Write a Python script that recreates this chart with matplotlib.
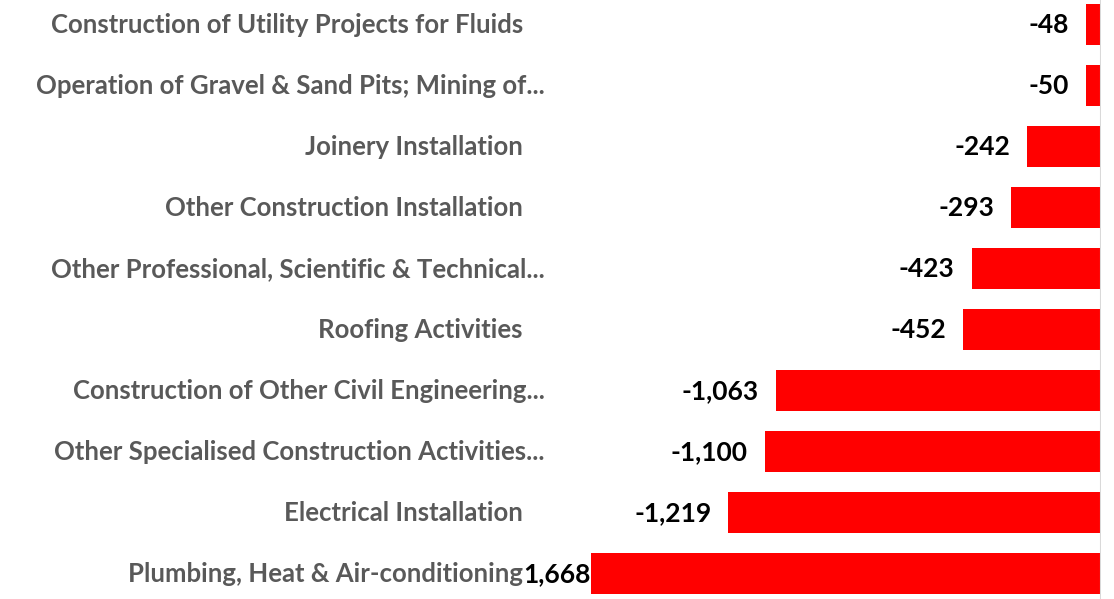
import matplotlib
matplotlib.use("Agg")
import matplotlib.pyplot as plt
import numpy as np

categories = [
    "Construction of Utility Projects for Fluids",
    "Operation of Gravel & Sand Pits; Mining of...",
    "Joinery Installation",
    "Other Construction Installation",
    "Other Professional, Scientific & Technical...",
    "Roofing Activities",
    "Construction of Other Civil Engineering...",
    "Other Specialised Construction Activities...",
    "Electrical Installation",
    "Plumbing, Heat & Air-conditioning",
]
values = [-48, -50, -242, -293, -423, -452, -1063, -1100, -1219, -1668]
value_labels = ["-48", "-50", "-242", "-293", "-423", "-452", "-1,063", "-1,100", "-1,219", "1,668"]

W, H = 1114, 599
fig = plt.figure(figsize=(W / 100, H / 100), dpi=100)
left_px, right_px = 591, 1101
top_px, bot_px = -5.8, 604.2
ax = fig.add_axes([left_px / W, 1 - bot_px / H, (right_px - left_px) / W, (bot_px - top_px) / H])

y = np.arange(len(categories))
ax.barh(y, values, height=0.67, color="#ff0000", zorder=2)
ax.set_xlim(min(values), 0)
ax.set_ylim(len(categories) - 0.5, -0.5)
ax.axis("off")

# vertical axis line at zero
ax.axvline(0, color="#d9d9d9", lw=1.5, zorder=3)

font = "Lato"
for i, (v, lab) in enumerate(zip(values, value_labels)):
    off = -17 if v > min(values) else 0
    ax.annotate(lab, xy=(v, i), xytext=(off, 0), textcoords="offset pixels",
                ha="right", va="center", fontsize=19, fontweight="bold",
                color="black", family=font, zorder=4)
    cat = categories[i]
    rx = 545 if cat.endswith("...") else 523
    fig.text(rx / W, 1 - (top_px + (i + 0.5) * (bot_px - top_px) / len(categories)) / H,
             cat, ha="right", va="center", fontsize=18.5,
             fontweight="bold", color="#595959", family=font)

fig.savefig("out.png", dpi=100)
